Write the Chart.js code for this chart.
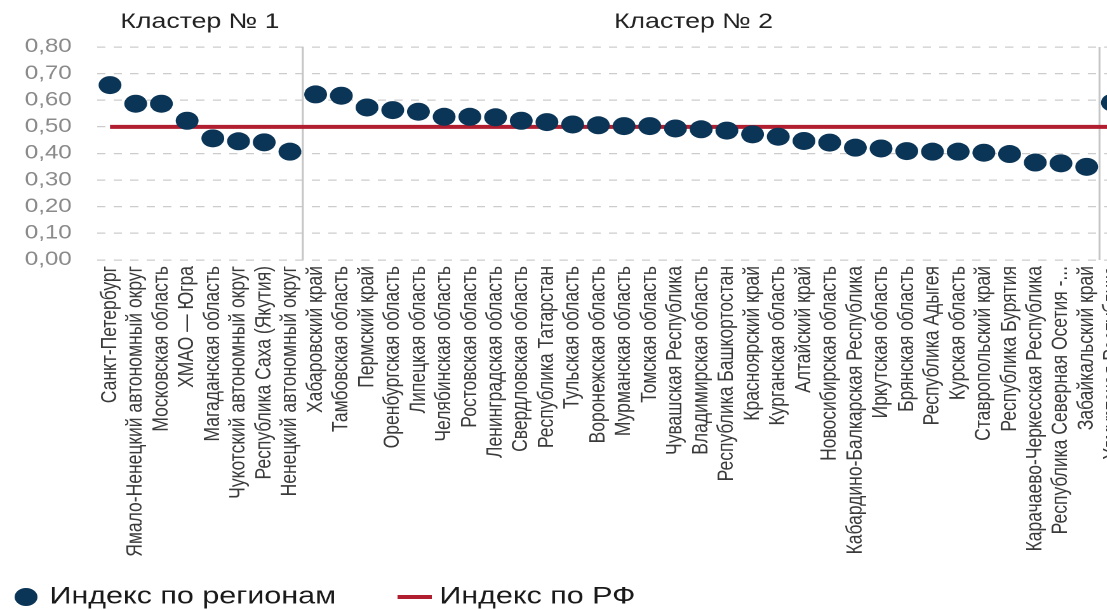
<!DOCTYPE html>
<html><head><meta charset="utf-8">
<script src="https://cdn.jsdelivr.net/npm/chart.js@4.4.1/dist/chart.umd.min.js"></script>
<style>
html,body{margin:0;padding:0;overflow:hidden;background:#fff;width:1107px;height:610px;}
#wrap{position:absolute;left:0;top:0;width:903px;height:610px;transform:scaleX(1.27);transform-origin:0 0;}
</style></head><body>
<div id="wrap"><canvas id="c" width="903" height="610"></canvas></div>
<script>
const categories = [
  'Санкт-Петербург','Ямало-Ненецкий автономный округ','Московская область','ХМАО — Югра',
  'Магаданская область','Чукотский автономный округ','Республика Саха (Якутия)','Ненецкий автономный округ',
  'Хабаровский край','Тамбовская область','Пермский край','Оренбургская область','Липецкая область',
  'Челябинская область','Ростовская область','Ленинградская область','Свердловская область',
  'Республика Татарстан','Тульская область','Воронежская область','Мурманская область','Томская область',
  'Чувашская Республика','Владимирская область','Республика Башкортостан','Красноярский край',
  'Курганская область','Алтайский край','Новосибирская область','Кабардино-Балкарская Республика',
  'Иркутская область','Брянская область','Республика Адыгея','Курская область','Ставропольский край',
  'Республика Бурятия','Карачаево-Черкесская Республика','Республика Северная Осетия -...',
  'Забайкальский край','Удмуртская Республика'
];
const regionIndex = [
  0.657,0.587,0.587,0.523,0.457,0.446,0.442,0.407,
  0.622,0.617,0.573,0.563,0.557,0.538,0.538,0.536,0.523,0.518,0.509,0.506,0.503,0.503,0.494,0.491,
  0.486,0.472,0.463,0.447,0.441,0.422,0.419,0.409,0.407,0.407,0.403,0.398,0.366,0.363,0.350,
  0.591
];
const rfIndex = [
  0.50,0.50,0.50,0.50,0.50,0.50,0.50,0.50,0.50,0.50,0.50,0.50,0.50,0.50,0.50,0.50,0.50,0.50,0.50,0.50,
  0.50,0.50,0.50,0.50,0.50,0.50,0.50,0.50,0.50,0.50,0.50,0.50,0.50,0.50,0.50,0.50,0.50,0.50,0.50,0.50
];
const yTickValues = [0,0.1,0.2,0.3,0.4,0.5,0.6,0.7,0.8];
const clusterTitles = ['Кластер № 1','Кластер № 2'];
const clusterSizes = [8, 31];
const seriesLabels = ['Индекс по регионам','Индекс по РФ'];

const FONT = '"Liberation Sans", Arial, Helvetica, sans-serif';
const NAVY = '#0b3557';
const RED = '#b01e2f';

const clusterPlugin = {
  id: 'clusters',
  beforeDatasetsDraw(chart) {
    const {ctx, chartArea, scales:{x}} = chart;
    ctx.save();
    let start = 0;
    clusterSizes.forEach((n, i) => {
      const end = start + n;
      const xl = i === 0 ? chartArea.left : (x.getPixelForValue(start - 1) + x.getPixelForValue(start)) / 2;
      const xr = (x.getPixelForValue(end - 1) + x.getPixelForValue(end)) / 2;
      ctx.strokeStyle = '#c6c6c6';
      ctx.lineWidth = 1.6;
      ctx.beginPath();
      ctx.moveTo(xr, chartArea.top);
      ctx.lineTo(xr, chartArea.bottom);
      ctx.stroke();
      ctx.fillStyle = '#222';
      ctx.font = '21px ' + FONT;
      ctx.textAlign = 'center';
      ctx.textBaseline = 'middle';
      ctx.fillText(clusterTitles[i], (xl + xr) / 2 - (i === 0 ? 0 : 6), 22);
      start = end;
    });
    ctx.restore();
  }
};

const legendPlugin = {
  id: 'customLegend',
  afterDraw(chart) {
    const ctx = chart.ctx;
    const ds = chart.data.datasets;
    const y = 597;
    ctx.save();
    ctx.fillStyle = ds[0].pointBackgroundColor;
    ctx.beginPath();
    ctx.arc(20.5, y, 9, 0, Math.PI * 2);
    ctx.fill();
    ctx.font = '24px ' + FONT;
    ctx.fillStyle = '#1a1a1a';
    ctx.textAlign = 'left';
    ctx.textBaseline = 'middle';
    ctx.fillText(ds[0].label, 39, y);
    ctx.strokeStyle = ds[1].borderColor;
    ctx.lineWidth = 4;
    ctx.beginPath();
    ctx.moveTo(313, y);
    ctx.lineTo(340, y);
    ctx.stroke();
    ctx.fillText(ds[1].label, 346, y);
    ctx.restore();
  }
};

new Chart(document.getElementById('c'), {
  type: 'line',
  data: {
    labels: categories,
    datasets: [
      {
        label: seriesLabels[0],
        data: regionIndex,
        showLine: false,
        pointRadius: 9,
        pointHoverRadius: 9,
        pointBackgroundColor: NAVY,
        pointBorderWidth: 0,
        borderColor: NAVY
      },
      {
        label: seriesLabels[1],
        data: rfIndex,
        borderColor: RED,
        borderWidth: 4,
        pointRadius: 0,
        fill: false
      }
    ]
  },
  options: {
    responsive: false,
    animation: false,
    devicePixelRatio: 2,
    layout: { padding: { top: 47, right: 6, bottom: 35, left: 0 } },
    plugins: { legend: { display: false }, tooltip: { enabled: false } },
    scales: {
      x: {
        type: 'category',
        offset: true,
        grid: { display: false, drawTicks: false },
        border: { display: false },
        ticks: {
          autoSkip: false,
          minRotation: 90,
          maxRotation: 90,
          padding: 6,
          color: '#3a3a3a',
          font: { family: FONT, size: 17.5 }
        },
        afterFit(scale) { scale.height = 315; }
      },
      y: {
        min: 0,
        max: 0.8,
        afterBuildTicks(scale) { scale.ticks = yTickValues.map(v => ({ value: v })); },
        grid: {
          color: '#cccccc',
          lineWidth: 1.3,
          drawTicks: false
        },
        border: { display: false, dash: [6.5, 6.5] },
        ticks: {
          padding: 20,
          color: '#8a8a8a',
          font: { family: FONT, size: 19 },
          callback: v => Number(v).toFixed(2).replace('.', ',')
        },
        afterFit(scale) { scale.width = 76.5; }
      }
    }
  },
  plugins: [clusterPlugin, legendPlugin]
});
</script>
</body></html>
